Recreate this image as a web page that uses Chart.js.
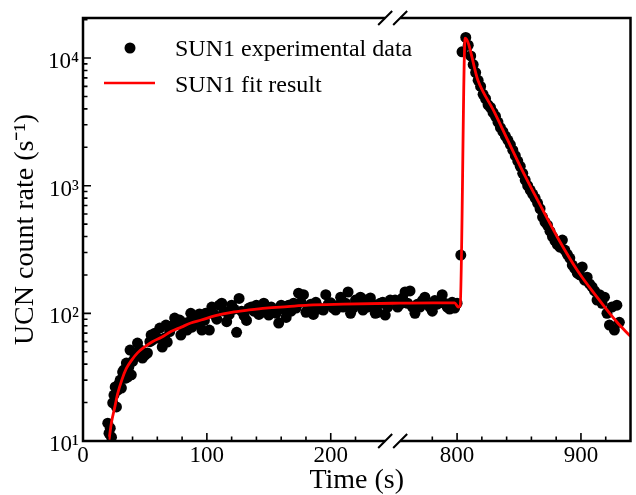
<!DOCTYPE html>
<html>
<head>
<meta charset="utf-8">
<script src="https://cdn.jsdelivr.net/npm/chart.js@4.4.1/dist/chart.umd.min.js"></script>
<style>
  html, body { margin: 0; padding: 0; background: #fff; }
</style>
</head>
<body>
<canvas id="grafico" width="636" height="495"></canvas>
<script>
const dataTime = [
  20, 21, 22, 23, 24, 25, 26, 27, 28, 29, 30, 31, 32, 33, 34, 35, 36, 37, 38, 39,
  40, 42, 44, 46, 48, 50, 52, 54, 55, 56, 58, 60, 62, 64, 66, 67, 68, 70, 72, 74,
  76, 78, 79, 81, 82, 84, 86, 87, 88, 90, 92, 94, 96, 98, 99, 102, 104, 106, 108, 110,
  112, 114, 116, 118, 120, 122, 124, 126, 128, 130, 132, 134, 136, 138, 140, 142, 144, 146, 148, 150,
  152, 154, 156, 158, 160, 162, 164, 166, 168, 170, 172, 174, 176, 178, 180, 182, 184, 186, 188, 190,
  192, 194, 196, 198, 200, 202, 204, 206, 208, 210, 212, 214, 216, 218, 220, 222, 224, 226, 228, 230,
  232, 234, 236, 238, 240, 242, 244, 246, 248,
  750, 752, 754, 756, 758, 760, 762, 764, 766, 768, 770, 772, 774, 776, 778, 780, 782, 784, 786, 788,
  790, 792, 794, 796, 798, 800, 803, 804, 807, 809, 811, 813, 815, 817, 819, 821, 823, 825, 827, 829,
  831, 833, 835, 837, 839, 841, 843, 845, 847, 849, 851, 853, 855, 857, 859, 861, 863, 865, 867, 869,
  871, 873, 875, 877, 879, 881, 883, 885, 887, 889, 891, 893, 895, 897, 899, 901, 903, 905, 907, 909,
  911, 913, 915, 917, 919, 921, 923, 925, 927, 929, 931
];
const dataRate = [
  13.8, 11.5, 12.6, 10.7, 19.9, 22.9, 26.5, 18.5, 25, 28, 30, 26, 34.7, 36, 31, 40.8, 31.7, 38, 51.6, 33,
  42, 46, 58.5, 52, 44.6, 47, 48.9, 60, 67.6, 61.7, 70, 64, 76.7, 54.5, 64, 81, 59.6, 72, 80, 91.8,
  84, 88.6, 67.6, 78, 84, 74, 86, 100, 78, 92, 84, 99, 74, 88, 100, 74, 112, 98, 90, 116,
  120, 104, 86, 98, 116, 108, 71, 131, 104, 96, 88, 110, 112, 104, 116, 98, 102, 120, 110, 97,
  112, 106, 100, 84, 116, 108, 93, 116, 104, 120, 110, 144, 122, 140, 102, 110, 118, 98, 122, 112,
  108, 106, 140, 118, 121, 110, 106, 116, 134, 112, 120, 147, 100, 110, 127, 118, 134, 106, 127, 112,
  132, 118, 100, 102, 120, 122, 97, 112, 127,
  127, 112, 118, 132, 147, 120, 150, 112, 100, 118, 112, 126, 134, 118, 112, 104, 126, 118, 122, 140,
  120, 112, 108, 122, 110, 120, 286, 11200, 14500, 12600, 10400, 8900, 7700, 6700, 6000, 5200, 4800, 4300, 4100, 3750,
  3500, 3150, 2850, 2650, 2450, 2280, 2100, 1900, 1720, 1560, 1420, 1250, 1107, 1000, 924, 860, 800, 731, 660, 568,
  519, 490, 440, 400, 370, 345, 330, 375, 313, 290, 271, 239, 225, 207, 200, 231, 182, 192, 170, 161,
  150, 127, 140, 120, 134, 100, 81, 112, 74, 116, 85
];

// fit result
const fitTime = [21, 23, 25.7, 28, 31.3, 35, 39.3, 44, 49.7, 56, 63.4, 71, 79.4, 87, 95.4, 107, 120, 133, 147.6, 165,
  182, 210, 250, 780, 798, 801, 802.5, 806.5, 816.8, 830.5, 840.9, 851.3, 865, 881, 897, 913, 929, 940];
const fitRate = [10.2, 14, 18.5, 23.5, 30, 37, 43, 49, 54.5, 60, 65, 72, 78, 84, 88.7, 96, 102, 106, 110, 113,
  116, 118, 120, 121, 121, 112, 115, 14300, 6710, 3710, 2275, 1400, 771, 395, 218, 134, 85.5, 66];

const xTickLabels = [0, 100, 200, 800, 900];
const yTickLabels = [10, 100, 1000, 10000];
const breakFrom = 250;
const breakTo = 748;
const tMax = 940;

const gap = breakTo - breakFrom;
const toAxis = t => (t >= breakTo ? t - gap : t);
const fromAxis = v => (v > breakFrom ? v + gap : v);

const sup = { '0': '⁰', '1': '¹', '2': '²', '3': '³', '4': '⁴', '5': '⁵' };
const serif = "'Liberation Serif', 'Times New Roman', serif";

// ticks pointing into the plot + frame with axis break marks
const framePlugin = {
  id: 'frame',
  afterDraw(chart) {
    const { ctx, chartArea: a, scales: { x, y } } = chart;
    ctx.save();
    ctx.strokeStyle = '#000';
    ctx.lineWidth = 1.6;

    // x ticks
    ctx.beginPath();
    xTickLabels.forEach(t => {
      const px = x.getPixelForValue(toAxis(t));
      ctx.moveTo(px, a.bottom);
      ctx.lineTo(px, a.bottom - 8);
    });
    for (let t = 20; t < tMax; t += 20) {
      if (xTickLabels.includes(t)) continue;
      if (t > breakFrom - 15 && t < breakTo + 15) continue;
      const px = x.getPixelForValue(toAxis(t));
      ctx.moveTo(px, a.bottom);
      ctx.lineTo(px, a.bottom - 4.5);
    }
    // y ticks
    yTickLabels.forEach(d => {
      const py = y.getPixelForValue(d);
      ctx.moveTo(a.left, py);
      ctx.lineTo(a.left + 8, py);
      for (let m = 2; m <= 9; m++) {
        const v = m * d;
        if (v > y.max) break;
        const pm = y.getPixelForValue(v);
        ctx.moveTo(a.left, pm);
        ctx.lineTo(a.left + 4.5, pm);
      }
    });
    ctx.stroke();

    // frame, broken at the axis break
    const bx = x.getPixelForValue(breakFrom);
    const half = 7.5;
    ctx.lineWidth = 2.5;
    ctx.beginPath();
    ctx.moveTo(bx - half, a.top);
    ctx.lineTo(a.left, a.top);
    ctx.lineTo(a.left, a.bottom);
    ctx.lineTo(bx - half, a.bottom);
    ctx.moveTo(bx + half, a.top);
    ctx.lineTo(a.right, a.top);
    ctx.lineTo(a.right, a.bottom);
    ctx.lineTo(bx + half, a.bottom);
    ctx.stroke();

    ctx.lineWidth = 2;
    ctx.beginPath();
    [a.top, a.bottom].forEach(yy => {
      [bx - half, bx + half].forEach(cx => {
        ctx.moveTo(cx - 7, yy + 7);
        ctx.lineTo(cx + 7, yy - 7);
      });
    });
    ctx.stroke();
    ctx.restore();
  }
};

// legend inside the plot, top left
const legendPlugin = {
  id: 'insideLegend',
  afterDraw(chart) {
    const { ctx, chartArea: a } = chart;
    const pts = chart.data.datasets[0];
    const fit = chart.data.datasets[1];
    ctx.save();
    ctx.font = '24px ' + serif;
    ctx.fillStyle = '#000';
    ctx.textBaseline = 'middle';

    ctx.beginPath();
    ctx.arc(a.left + 47, a.top + 30, 5.5, 0, Math.PI * 2);
    ctx.fill();
    ctx.fillText(pts.label, a.left + 92, a.top + 32);

    ctx.strokeStyle = fit.borderColor;
    ctx.lineWidth = 2.5;
    ctx.beginPath();
    ctx.moveTo(a.left + 21, a.top + 65);
    ctx.lineTo(a.left + 72, a.top + 65);
    ctx.stroke();
    ctx.fillText(fit.label, a.left + 92, a.top + 68);
    ctx.restore();
  }
};

const ctx = document.getElementById('grafico').getContext('2d');
const grafico = new Chart(ctx, {
  type: 'scatter',
  data: {
    datasets: [{
      label: 'SUN1 experimental data',
      data: dataTime.map((t, i) => ({ x: toAxis(t), y: dataRate[i] })),
      backgroundColor: '#000',
      borderWidth: 0,
      pointRadius: 5.5,
      order: 1
    }, {
      type: 'line',
      label: 'SUN1 fit result',
      data: fitTime.map((t, i) => ({ x: toAxis(t), y: fitRate[i] })),
      borderColor: '#ff0000',
      borderWidth: 2.8,
      pointRadius: 0,
      fill: false,
      cubicInterpolationMode: 'monotone',
      order: 0
    }]
  },
  options: {
    responsive: false,
    animation: false,
    layout: { padding: { top: 18, right: 4, left: 0, bottom: 0 } },
    plugins: { legend: { display: false }, tooltip: { enabled: false } },
    scales: {
      x: {
        type: 'linear',
        min: 0,
        max: toAxis(tMax),
        grid: { display: false, drawTicks: false },
        border: { display: false },
        afterBuildTicks: s => { s.ticks = xTickLabels.map(t => ({ value: toAxis(t) })); },
        afterFit: s => { s.height = 54; },
        ticks: {
          color: '#000',
          padding: 1,
          maxRotation: 0,
          autoSkip: false,
          font: { family: serif, size: 23 },
          callback: v => String(fromAxis(v))
        },
        title: {
          display: true,
          text: 'Time (s)',
          color: '#000',
          font: { family: serif, size: 28, lineHeight: 1 },
          padding: { top: 0, bottom: 0 }
        }
      },
      y: {
        type: 'logarithmic',
        min: 10,
        max: 20600,
        grid: { display: false, drawTicks: false },
        border: { display: false },
        afterBuildTicks: s => { s.ticks = yTickLabels.map(v => ({ value: v })); },
        afterFit: s => { s.width = 83; },
        ticks: {
          color: '#000',
          padding: 4,
          labelOffset: 4,
          font: { family: serif, size: 23 },
          callback: v => '10' + sup[Math.round(Math.log10(v))]
        },
        title: {
          display: true,
          text: 'UCN count rate (s⁻¹)',
          color: '#000',
          font: { family: serif, size: 28, lineHeight: 1 },
          padding: { top: 12, bottom: 0 }
        }
      }
    }
  },
  plugins: [framePlugin, legendPlugin]
});
</script>
</body>
</html>
